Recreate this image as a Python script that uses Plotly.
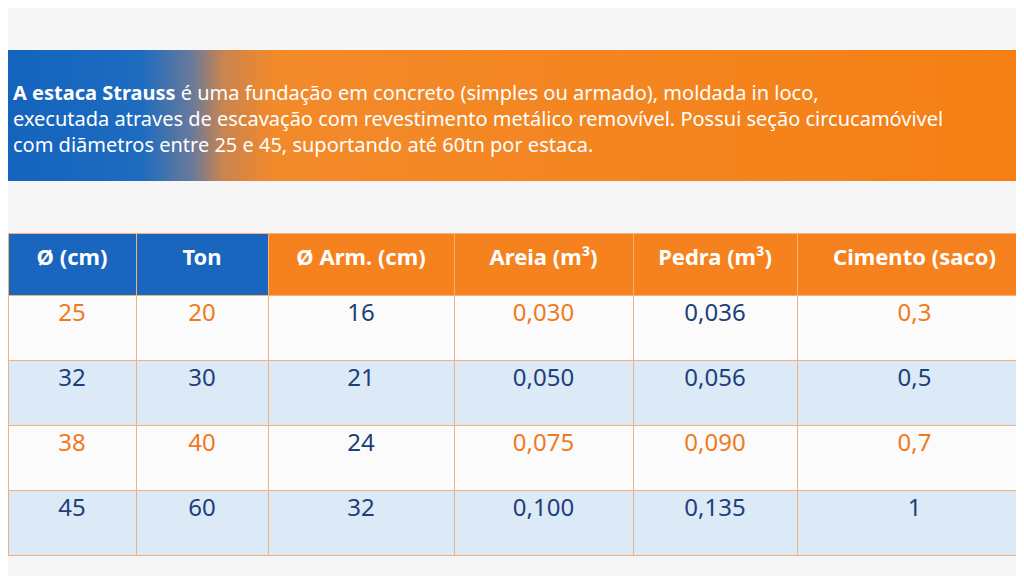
import plotly.graph_objects as go

headers = ["Ø (cm)", "Ton", "Ø Arm. (cm)", "Areia (m³)", "Pedra (m³)", "Cimento (saco)"]
diametro = ["25", "32", "38", "45"]
ton = ["20", "30", "40", "60"]
armadura = ["16", "21", "24", "32"]
areia = ["0,030", "0,050", "0,075", "0,100"]
pedra = ["0,036", "0,056", "0,090", "0,135"]
cimento = ["0,3", "0,5", "0,7", "1"]

intro = ("<b>A estaca Strauss</b> é uma fundação em concreto (simples ou armado), moldada in loco,<br>"
         "executada atraves de escavação com revestimento metálico removível. Possui seção circucamóvivel<br>"
         "com diãmetros entre 25 e 45, suportando até 60tn por estaca.")

BLUE = "#1a66bf"
ORANGE = "#f5821f"
DARK = "#1d3f7a"
TXT_OR = "#f07a1e"

header_fill = [BLUE, BLUE, ORANGE, ORANGE, ORANGE, ORANGE]
row_fill = ["#fbfbfb", "#dceaf7", "#fbfbfb", "#dceaf7"]
# text colour per column, per row
font_cols = [
    [TXT_OR, DARK, TXT_OR, DARK],
    [TXT_OR, DARK, TXT_OR, DARK],
    [DARK, DARK, DARK, DARK],
    [TXT_OR, DARK, TXT_OR, DARK],
    [DARK, DARK, TXT_OR, DARK],
    [TXT_OR, DARK, TXT_OR, DARK],
]

fig = go.Figure()

fig.add_trace(go.Scatter(
    x=[0, 1, 1, 0, 0], y=[0, 0, 1, 1, 0], fill="toself", mode="lines",
    line=dict(width=0), hoverinfo="skip", showlegend=False,
    fillgradient=dict(type="horizontal",
                      colorscale=[[0, "#1463bd"], [0.13, "#1d6cc0"], [0.18, "#6a7a9a"],
                                  [0.21, "#c9844f"], [0.26, "#f38a2a"], [1, "#f57f14"]])))

fig.add_trace(go.Table(
    domain=dict(x=[0, 1], y=[1 - 550 / 576, 1 - 225 / 576]),
    columnwidth=[128, 132, 186, 179, 164, 235],
    header=dict(values=[f"<b>{h}</b>" for h in headers], fill_color=header_fill,
                font=dict(color="white", size=22, family="Noto Sans"),
                line=dict(color="#f3b27c", width=1), height=62, align="center"),
    cells=dict(values=[diametro, ton, armadura, areia, pedra, cimento],
               fill_color=[row_fill] * 6, font=dict(color=font_cols, size=24, family="Noto Sans"),
               line=dict(color="#f3b27c", width=1), height=65, align="center")))

fig.add_annotation(x=0.003, y=1 - 110 / 576, xref="paper", yref="paper", xanchor="left",
                   yanchor="middle", text=intro, showarrow=False, align="left",
                   font=dict(color="white", size=20, family="Noto Sans"))

fig.update_layout(
    width=1024, height=576, margin=dict(l=0, r=0, t=0, b=0),
    paper_bgcolor="#f6f6f6", plot_bgcolor="rgba(0,0,0,0)",
    xaxis=dict(range=[0, 1], visible=False, fixedrange=True),
    yaxis=dict(range=[0, 1], visible=False, domain=[1 - 173 / 576, 1 - 42 / 576], fixedrange=True),
)
fig.write_html("out.html")
